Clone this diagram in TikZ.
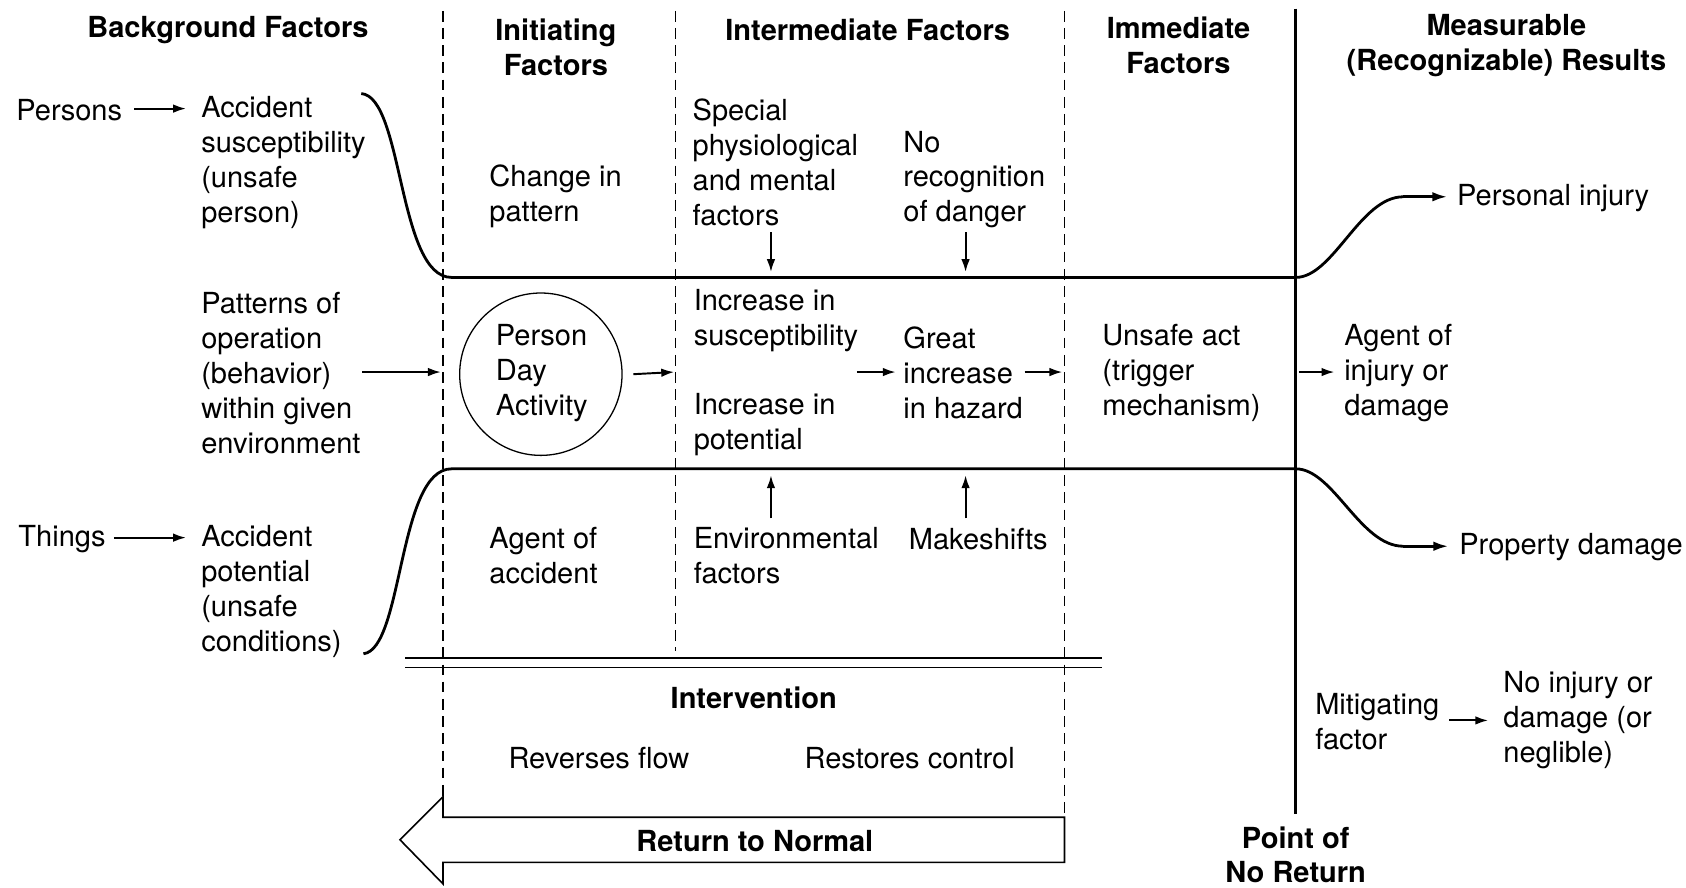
\documentclass[tikz,border=0pt]{standalone}
\usepackage{fontspec}
\setmainfont{TeX Gyre Heros}
\usetikzlibrary{arrows.meta}
\begin{document}
\begin{tikzpicture}[x=1pt,y=-1pt,
  txt/.style={inner sep=0pt, align=left, anchor=west, font=\fontsize{27}{32.5}\selectfont},
  ctxt/.style={inner sep=0pt, align=center, font=\fontsize{27}{32.5}\selectfont},
  hdr/.style={inner sep=0pt, align=center, font=\fontsize{27}{32.5}\selectfont\bfseries},
  arr/.style={line width=1.8pt, -{Latex[length=12pt,width=8pt]}},
  heavy/.style={line width=2.6pt},
  heavyarr/.style={line width=2.6pt, -{Latex[length=14pt,width=9pt]}},
  dsh/.style={line width=1.2pt, dash pattern=on 10pt off 6pt},
]
\useasboundingbox (0,0) rectangle (1568,825);
% headers
\node[hdr] (hbg) at (212,28) {Background Factors};
\node[hdr] (hinit) at (517,44) {Initiating\\Factors};
\node[hdr] (hint) at (807,28) {Intermediate Factors};
\node[hdr] (himm) at (1096,42.5) {Immediate\\Factors};
\node[hdr] (hres) at (1401,42.5) {Measurable\\(Recognizable) Results};
% column separators
\draw[dsh] (412,10) -- (412,741);
\draw[dsh] (628,10) -- (628,605);
\draw[dsh] (990,10) -- (990,760);
\draw[line width=3pt] (1205,8) -- (1205,757);
\node[hdr] (pnr) at (1205,795) {Point of\\No Return};
% double lines
\draw[line width=1.3pt] (377,612) -- (1025,612);
\draw[line width=1.3pt] (377,621) -- (1025,621);
% return arrow
\draw[line width=1.5pt, line join=miter] (990,760) -- (412,760) -- (412,741) -- (372,781) -- (412,822) -- (412,802) -- (990,802) -- cycle;
\node[hdr] (rtn) at (702,782) {Return to Normal};
% text
\node[txt] (persons) at (15,102) {Persons};
\node[txt] (accsus) at (187,151) {Accident\\susceptibility\\(unsafe\\person)};
\node[txt] (patterns) at (187,347) {Patterns of\\operation\\(behavior)\\within given\\environment};
\node[txt] (things) at (17,501) {Things};
\node[txt] (accpot) at (187,550) {Accident\\potential\\(unsafe\\conditions)};
\node[txt] (change) at (455,183) {Change in\\pattern};
\node[circle, draw, line width=1.2pt, minimum size=151pt, inner sep=0pt] (pda) at (503,348) {};
\node[txt] (pdatxt) at (461,347) {Person\\Day\\Activity};
\node[txt] (agent) at (455,517) {Agent of\\accident};
\node[txt] (special) at (644,151) {Special\\physiological\\and mental\\factors};
\node[txt] (norec) at (840,167) {No\\recognition\\of danger};
\node[txt] (incsus) at (645,298) {Increase in\\susceptibility};
\node[txt] (incpot) at (645,395) {Increase in\\potential};
\node[txt] (great) at (840,347) {Great\\increase\\in hazard};
\node[txt] (env) at (645,517) {Environmental\\factors};
\node[txt] (make) at (845,501) {Makeshifts};
\node[txt] (unsafe) at (1025,347) {Unsafe act\\(trigger\\mechanism)};
\node[txt] (agentinj) at (1250,347) {Agent of\\injury or\\damage};
\node[txt] (pinj) at (1355,184) {Personal injury};
\node[txt] (pdam) at (1357,509) {Property damage};
\node[txt] (mitig) at (1223,671) {Mitigating\\factor};
\node[txt] (noinj) at (1398,670) {No injury or\\damage (or\\neglible)};
\node[hdr] (interv) at (701,649) {Intervention};
\node[ctxt] (rev) at (557,705) {Reverses flow};
\node[ctxt] (rest) at (846,705) {Restores control};
% coordinates
\coordinate (ustart) at (336,87);
\coordinate (ucorner) at (420,258);
\coordinate (upnr) at (1205,258);
\coordinate (utop) at (1305,183);
\coordinate (lstart) at (338,608);
\coordinate (lcorner) at (420,436);
\coordinate (lpnr) at (1205,436);
\coordinate (lbot) at (1305,508);
\coordinate (sep1) at (410,346);
\coordinate (sep2) at (627,346);
\coordinate (sep3) at (988,346);
\coordinate (d1a) at (717,216);
\coordinate (d1b) at (717,253);
\coordinate (d2a) at (898,216);
\coordinate (d2b) at (898,253);
\coordinate (u1a) at (717,482);
\coordinate (u1b) at (717,442);
\coordinate (u2a) at (898,482);
\coordinate (u2b) at (898,442);
\coordinate (pnrarr) at (1208,346);
% heavy flow lines
\draw[heavy] (ustart) .. controls (375,90) and (370,258) .. (ucorner) -- (upnr) .. controls (1240,258) and (1265,183) .. (utop);
\draw[heavyarr] (utop) -- (1346,183);
\draw[heavy] (lstart) .. controls (375,604) and (370,436) .. (lcorner) -- (lpnr) .. controls (1240,436) and (1265,508) .. (lbot);
\draw[heavyarr] (lbot) -- (1347,508);
% small arrows
\draw[arr] (125,101) -- (173,101);
\draw[arr] (106,500) -- (173,500);
\draw[arr] (337,346) -- (sep1);
\draw[arr] ([xshift=10pt]pda.east) -- (sep2);
\draw[arr] (797,346) -- (833,346);
\draw[arr] (953,346) -- (sep3);
\draw[arr] (pnrarr) -- (1241,346);
\draw[arr] (d1a) -- (d1b);
\draw[arr] (d2a) -- (d2b);
\draw[arr] (u1a) -- (u1b);
\draw[arr] (u2a) -- (u2b);
\draw[arr] (1348,670) -- (1384,670);
\end{tikzpicture}
\end{document}
